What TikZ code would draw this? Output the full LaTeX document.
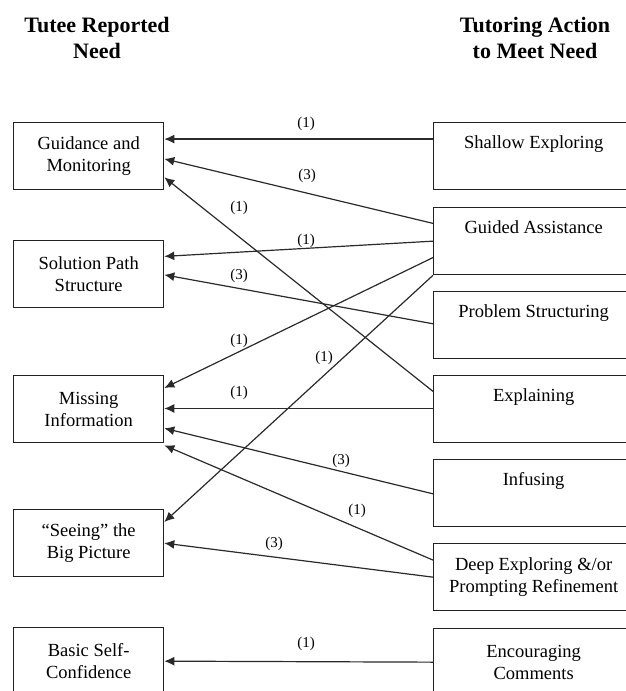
\documentclass[tikz,border=0pt]{standalone}
\usepackage{fontspec}
\setmainfont{Liberation Serif}
\usetikzlibrary{arrows.meta,calc}
\definecolor{boxline}{HTML}{222222}
\definecolor{linkline}{HTML}{2A2A2A}

\begin{document}
\begin{tikzpicture}[x=1pt,y=-1pt,>={Latex[length=10pt,width=9pt]},
  need/.style={draw=boxline,line width=1.3pt,minimum width=150pt,minimum height=67pt,
    anchor=north west,align=center,inner sep=0pt,font=\fontsize{18.5}{22}\selectfont},
  act/.style={need,minimum width=200pt},
  link/.style={->,linkline,line width=1.2pt},
  cnt/.style={font=\fontsize{15}{18}\selectfont},
  head/.style={align=center,font=\bfseries\fontsize{22}{26}\selectfont}]
\useasboundingbox (0,0) rectangle (626,691);
\clip (0,0) rectangle (626,691);
% column heads
\node[head] (needhead) at (97,38) {Tutee Reported\\Need};
\node[head] (acthead) at (535,38) {Tutoring Action\\to Meet Need};
% reported needs
\node[need] (guidance) at (13,122) {Guidance and\\Monitoring};
\node[need] (solution) at (13,240) {Solution Path\\Structure};
\node[need] (missing) at (13,375) {Missing\\Information};
\node[need] (seeing) at (13,509) {``Seeing'' the\\Big Picture};
\node[need] (selfconf) at (13,627) {Basic Self-\\Confidence};
% tutoring actions
\node[act] (shallow) at (433,122) {Shallow Exploring\\\strut};
\node[act] (guided) at (433,207) {Guided Assistance\\\strut};
\node[act] (structuring) at (433,291) {Problem Structuring\\\strut};
\node[act] (explaining) at (433,375) {Explaining\\\strut};
\node[act] (infusing) at (433,459) {Infusing\\\strut};
\node[act] (deep) at (433,543) {Deep Exploring \&/or\\Prompting Refinement};
\node[act] (encourage) at (433,628) {Encouraging\\Comments};
% links
\draw[link] ($(shallow.north west)!.25!(shallow.south west)$) -- ($(guidance.north east)!.25!(guidance.south east)$);
\draw[link] ($(guided.north west)!.24!(guided.south west)$) -- ($(guidance.north east)!.54!(guidance.south east)$);
\draw[link] ($(guided.north west)!.5!(guided.south west)$) -- ($(solution.north east)!.24!(solution.south east)$);
\draw[link] ($(guided.north west)!.74!(guided.south west)$) -- ($(missing.north east)!.19!(missing.south east)$);
\draw[link] (guided.south west) -- ($(seeing.north east)!.19!(seeing.south east)$);
\draw[link] ($(structuring.north west)!.48!(structuring.south west)$) -- ($(solution.north east)!.51!(solution.south east)$);
\draw[link] ($(explaining.north west)!.24!(explaining.south west)$) -- ($(guidance.north east)!.81!(guidance.south east)$);
\draw[link] ($(explaining.north west)!.49!(explaining.south west)$) -- ($(missing.north east)!.49!(missing.south east)$);
\draw[link] ($(infusing.north west)!.51!(infusing.south west)$) -- ($(missing.north east)!.78!(missing.south east)$);
\draw[link] ($(deep.north west)!.25!(deep.south west)$) -- ($(missing.north east)!1.03!(missing.south east)$);
\draw[link] ($(deep.north west)!.5!(deep.south west)$) -- ($(seeing.north east)!.5!(seeing.south east)$);
\draw[link] ($(encourage.north west)!.5!(encourage.south west)$) -- ($(selfconf.north east)!.5!(selfconf.south east)$);
% counts
\node[cnt] (c1) at (306,124) {(1)};
\node[cnt] (c2) at (307,176) {(3)};
\node[cnt] (c3) at (306,241) {(1)};
\node[cnt] (c4) at (239,341) {(1)};
\node[cnt] (c5) at (324,358) {(1)};
\node[cnt] (c6) at (239,276) {(3)};
\node[cnt] (c7) at (239,208) {(1)};
\node[cnt] (c8) at (239,393) {(1)};
\node[cnt] (c9) at (341,461) {(3)};
\node[cnt] (c10) at (357,511) {(1)};
\node[cnt] (c11) at (274,544) {(3)};
\node[cnt] (c12) at (306,644) {(1)};
\end{tikzpicture}
\end{document}
